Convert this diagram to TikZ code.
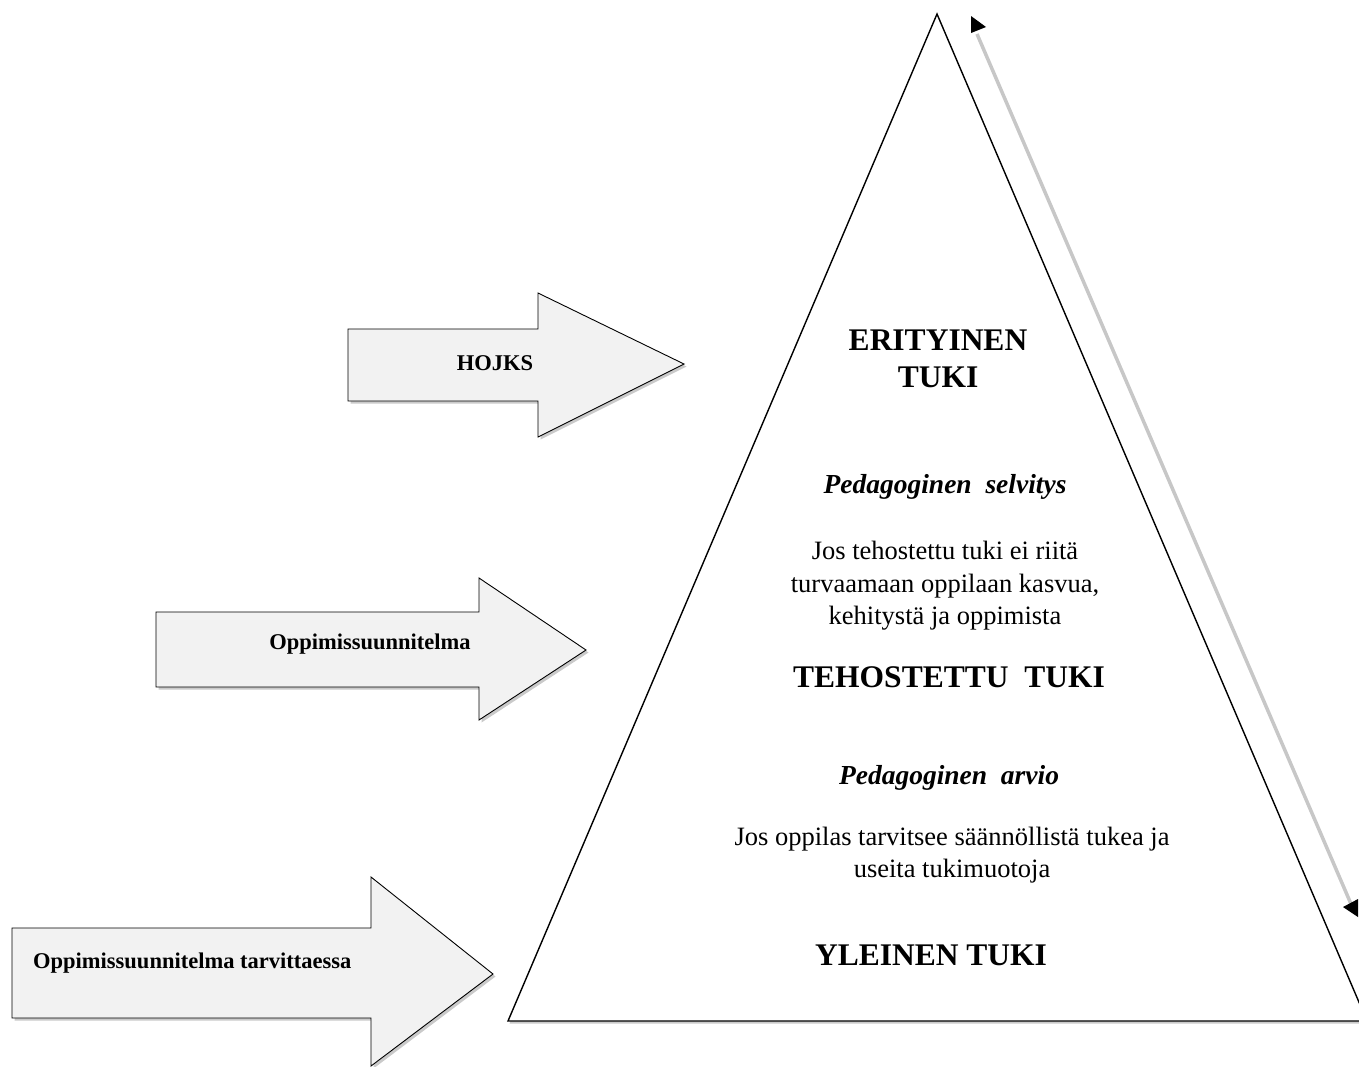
\documentclass[tikz,border=0pt]{standalone}
\usepackage{fontspec}
\setmainfont{Liberation Serif}
\usetikzlibrary{shadows}
\begin{document}
\begin{tikzpicture}[x=1pt,y=-1pt,
  bigarrow/.style={draw=black,line width=0.9pt,fill=black!5,
    drop shadow={shadow xshift=2.5pt,shadow yshift=-2.5pt,opacity=0.35,fill=black!60}},
  alabel/.style={font=\bfseries\fontsize{22.5}{26}\selectfont,inner sep=0pt},
  head/.style={font=\bfseries\fontsize{31.5}{37}\selectfont,align=center,inner sep=0pt},
  sub/.style={font=\bfseries\itshape\fontsize{27.5}{32}\selectfont,inner sep=0pt},
  body/.style={font=\fontsize{26.5}{32.5}\selectfont,align=center,inner sep=0pt},
  tip/.style={fill=black}]
\useasboundingbox (0,0) rectangle (1359,1066);
% triangle
\draw[line width=1.4pt,fill=white,
  drop shadow={shadow xshift=1.5pt,shadow yshift=-2.5pt,opacity=0.35,fill=black!60}]
  (937,14) -- (1367,1021) -- (508,1021) -- cycle;
% double arrow on the right
\coordinate (ra) at (977,34);
\coordinate (rb) at (1351,904);
\draw[black!22,line width=3.5pt] (ra) -- (rb);
\fill[tip] (971,16) -- (986,27) -- (971,33) -- cycle;
\fill[tip] (1343,907) -- (1358,899) -- (1358,917) -- cycle;
% left arrows
\draw[bigarrow] (348,329) -- (538,329) -- (538,293) -- (684,364) -- (538,437) -- (538,401) -- (348,401) -- cycle;
\node[alabel] (hojks) at (495,363) {HOJKS};
\draw[bigarrow] (156,612) -- (479,612) -- (479,578) -- (586,650) -- (479,720) -- (479,687) -- (156,687) -- cycle;
\node[alabel] (opsu) at (370,644) {Oppimissuunnitelma};
\draw[bigarrow] (12,928) -- (371,928) -- (371,877) -- (493,974) -- (371,1066) -- (371,1018) -- (12,1018) -- cycle;
\node[alabel,anchor=west] (opst) at (33,963) {Oppimissuunnitelma tarvittaessa};
% texts
\node[head] (eri) at (938,359) {ERITYINEN\\TUKI};
\node[sub] (psel) at (945,487) {Pedagoginen\ \ selvitys};
\node[body] (jos1) at (945,586) {Jos tehostettu tuki ei riitä\\turvaamaan oppilaan kasvua,\\kehitystä ja oppimista};
\node[head] (teh) at (949,677) {TEHOSTETTU\ \ TUKI};
\node[sub] (parv) at (949,778) {Pedagoginen\ \ arvio};
\node[body] (jos2) at (952,855) {Jos oppilas tarvitsee säännöllistä tukea ja\\useita tukimuotoja};
\node[head] (yle) at (931,955) {YLEINEN TUKI};
\end{tikzpicture}
\end{document}
